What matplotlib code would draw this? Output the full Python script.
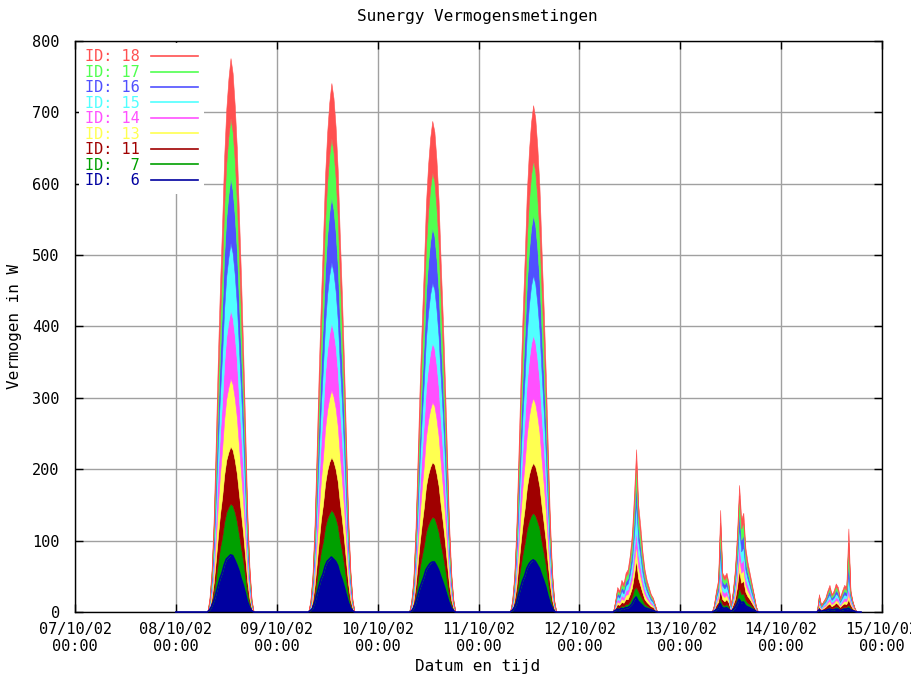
import numpy as np
import matplotlib
matplotlib.use('Agg')
import matplotlib.pyplot as plt
import matplotlib.dates as mdates
from matplotlib.lines import Line2D
from datetime import datetime, timedelta

# Meetdagen en halfuur-tijdstippen (07:30 .. 19:00)
dagen = ['08/10/02', '09/10/02', '10/10/02', '11/10/02', '12/10/02', '13/10/02', '14/10/02']
slots = ['07:30', '08:00', '08:30', '09:00', '09:30', '10:00', '10:30', '11:00',
         '11:30', '12:00', '12:30', '13:00', '13:30', '14:00', '14:30', '15:00',
         '15:30', '16:00', '16:30', '17:00', '17:30', '18:00', '18:30', '19:00']

ids = [6, 7, 11, 13, 14, 15, 16, 17, 18]
kleuren = ['#0000a0', '#00a000', '#a00000', '#ffff50', '#ff50ff',
           '#50ffff', '#5050ff', '#50ff50', '#ff5050']

# Vermogen (W) per omvormer, per dag, per half uur
id_6 = [
    [0, 3, 8, 15, 25, 36, 47, 55, 66, 74, 77, 80, 79, 73, 66, 58, 47, 38, 27, 15, 7, 2, 0, 0],
    [0, 2, 5, 13, 24, 35, 46, 53, 64, 71, 74, 77, 74, 71, 65, 54, 46, 36, 25, 14, 6, 2, 0, 0],
    [0, 1, 5, 12, 22, 33, 41, 49, 59, 64, 68, 70, 70, 65, 59, 50, 42, 33, 23, 13, 6, 2, 0, 0],
    [0, 2, 6, 12, 23, 34, 44, 51, 61, 67, 71, 73, 71, 66, 61, 52, 44, 35, 23, 13, 6, 1, 0, 0],
    [0, 0, 2, 4, 3, 5, 4, 6, 6, 8, 11, 17, 21, 15, 12, 9, 6, 5, 4, 3, 2, 1, 0, 0],
    [0, 1, 3, 5, 12, 6, 5, 6, 4, 1, 3, 6, 11, 18, 13, 14, 9, 7, 6, 4, 3, 1, 0, 0],
    [0, 0, 0, 3, 1, 2, 2, 3, 4, 3, 3, 4, 4, 2, 3, 4, 4, 5, 3, 2, 1, 0, 0, 0],
]
id_7 = [
    [0, 1, 5, 12, 22, 33, 43, 50, 60, 66, 70, 72, 70, 67, 61, 51, 43, 34, 23, 13, 6, 2, 0, 0],
    [0, 1, 5, 11, 20, 30, 39, 46, 55, 60, 64, 66, 65, 61, 56, 47, 40, 31, 21, 12, 5, 2, 0, 0],
    [0, 1, 4, 11, 20, 29, 37, 44, 53, 58, 61, 63, 62, 58, 53, 45, 38, 30, 20, 11, 5, 2, 0, 0],
    [0, 1, 5, 11, 21, 30, 38, 46, 55, 61, 64, 66, 64, 61, 56, 47, 39, 31, 21, 12, 5, 2, 0, 0],
    [0, 0, 1, 3, 3, 4, 4, 5, 5, 7, 10, 15, 14, 14, 11, 8, 5, 4, 3, 2, 2, 1, 0, 0],
    [0, 1, 3, 4, 8, 5, 4, 5, 4, 1, 3, 5, 10, 16, 12, 12, 8, 6, 5, 4, 2, 1, 0, 0],
    [0, 0, 0, 2, 1, 1, 2, 3, 3, 2, 3, 4, 3, 2, 3, 3, 3, 5, 3, 1, 1, 0, 0, 0],
]
id_11 = [
    [0, 2, 6, 14, 25, 37, 47, 56, 66, 73, 77, 80, 78, 73, 67, 57, 48, 38, 26, 14, 6, 2, 0, 0],
    [0, 1, 5, 13, 23, 34, 44, 52, 61, 67, 72, 74, 72, 68, 62, 53, 44, 35, 24, 13, 6, 2, 0, 0],
    [0, 2, 5, 13, 24, 35, 45, 54, 64, 70, 74, 77, 75, 71, 65, 55, 46, 36, 25, 14, 6, 2, 0, 0],
    [0, 1, 5, 12, 22, 32, 41, 49, 58, 64, 68, 70, 69, 65, 59, 50, 42, 33, 22, 13, 6, 2, 0, 0],
    [0, 0, 2, 4, 4, 5, 5, 7, 7, 10, 13, 20, 38, 18, 14, 10, 7, 5, 4, 3, 3, 1, 0, 0],
    [0, 1, 4, 5, 12, 7, 6, 7, 5, 1, 4, 7, 14, 25, 16, 18, 11, 9, 7, 5, 3, 1, 0, 0],
    [0, 0, 0, 3, 1, 2, 3, 4, 5, 3, 4, 5, 4, 3, 4, 5, 4, 8, 4, 2, 1, 0, 0, 0],
]
id_13 = [
    [0, 2, 7, 16, 29, 44, 56, 67, 78, 86, 91, 95, 92, 87, 79, 67, 57, 45, 30, 17, 8, 2, 0, 0],
    [0, 2, 7, 16, 29, 43, 55, 66, 77, 85, 90, 94, 91, 86, 78, 67, 56, 44, 30, 17, 8, 2, 0, 0],
    [0, 2, 6, 14, 26, 39, 50, 59, 69, 76, 81, 84, 82, 77, 70, 60, 50, 39, 27, 15, 7, 2, 0, 0],
    [0, 2, 6, 15, 28, 42, 54, 64, 75, 82, 88, 91, 88, 83, 76, 65, 55, 43, 29, 16, 7, 2, 0, 0],
    [0, 0, 2, 4, 3, 5, 4, 6, 7, 9, 12, 18, 21, 16, 13, 9, 7, 5, 4, 3, 2, 1, 0, 0],
    [0, 1, 3, 5, 15, 6, 6, 6, 4, 1, 3, 7, 12, 18, 14, 15, 10, 8, 6, 4, 3, 1, 0, 0],
    [0, 0, 0, 3, 1, 2, 2, 3, 4, 3, 3, 4, 4, 2, 3, 4, 4, 8, 3, 2, 1, 0, 0, 0],
]
id_14 = [
    [0, 2, 7, 16, 30, 44, 57, 67, 79, 87, 92, 96, 93, 87, 80, 68, 58, 45, 31, 17, 8, 2, 0, 0],
    [0, 2, 7, 16, 29, 43, 55, 66, 77, 85, 90, 94, 91, 86, 78, 67, 56, 44, 30, 17, 8, 2, 0, 0],
    [0, 2, 6, 14, 26, 38, 49, 58, 69, 75, 80, 83, 81, 76, 69, 59, 50, 39, 27, 15, 7, 2, 0, 0],
    [0, 2, 6, 15, 27, 40, 52, 62, 73, 80, 85, 88, 86, 80, 73, 62, 53, 41, 28, 16, 7, 2, 0, 0],
    [0, 0, 2, 4, 3, 5, 4, 6, 7, 9, 12, 18, 21, 17, 13, 9, 7, 5, 4, 3, 2, 1, 0, 0],
    [0, 1, 3, 5, 18, 6, 6, 6, 4, 1, 3, 7, 12, 20, 14, 15, 10, 8, 6, 4, 3, 1, 0, 0],
    [0, 0, 0, 3, 1, 2, 2, 3, 4, 3, 3, 4, 4, 2, 3, 4, 4, 10, 3, 2, 1, 0, 0, 0],
]
id_15 = [
    [0, 3, 8, 16, 29, 43, 55, 66, 77, 85, 90, 94, 91, 86, 78, 70, 56, 44, 32, 17, 8, 2, 0, 0],
    [0, 2, 6, 14, 26, 39, 50, 60, 70, 77, 82, 85, 83, 78, 71, 60, 51, 40, 27, 15, 7, 2, 0, 0],
    [0, 2, 6, 14, 26, 39, 50, 59, 69, 76, 81, 84, 82, 77, 70, 60, 50, 39, 27, 15, 7, 2, 0, 0],
    [0, 2, 7, 14, 26, 39, 50, 59, 69, 76, 81, 84, 82, 77, 70, 60, 50, 39, 27, 15, 7, 2, 0, 0],
    [0, 0, 2, 4, 4, 6, 5, 7, 8, 10, 14, 21, 39, 20, 16, 11, 8, 6, 4, 3, 3, 2, 0, 0],
    [0, 2, 4, 6, 20, 7, 6, 7, 5, 2, 4, 8, 14, 22, 16, 17, 12, 9, 7, 5, 3, 1, 0, 0],
    [0, 0, 0, 3, 2, 2, 3, 4, 5, 3, 4, 5, 4, 3, 4, 5, 4, 16, 4, 2, 0, 0, 0, 0],
]
id_16 = [
    [0, 2, 6, 15, 28, 42, 54, 64, 75, 82, 88, 91, 88, 83, 76, 65, 55, 43, 29, 16, 7, 2, 0, 0],
    [0, 2, 6, 15, 28, 42, 54, 64, 75, 82, 88, 91, 88, 83, 76, 65, 55, 43, 29, 16, 7, 2, 0, 0],
    [0, 2, 5, 13, 24, 35, 45, 54, 64, 70, 74, 77, 75, 71, 65, 55, 46, 36, 25, 14, 6, 2, 0, 0],
    [0, 2, 6, 14, 26, 39, 50, 59, 69, 76, 81, 84, 82, 77, 70, 60, 50, 39, 27, 15, 7, 2, 0, 0],
    [0, 0, 2, 4, 4, 5, 5, 6, 7, 10, 13, 20, 27, 18, 14, 10, 7, 5, 4, 3, 2, 1, 0, 0],
    [0, 1, 4, 5, 20, 6, 6, 6, 5, 1, 4, 7, 13, 22, 16, 17, 11, 8, 6, 5, 3, 1, 0, 0],
    [0, 0, 0, 3, 1, 2, 2, 4, 5, 3, 4, 5, 4, 2, 4, 5, 4, 22, 4, 2, 0, 0, 0, 0],
]
id_17 = [
    [0, 2, 6, 14, 26, 39, 50, 59, 69, 76, 81, 84, 82, 77, 70, 62, 50, 41, 27, 15, 7, 2, 0, 0],
    [0, 2, 6, 14, 26, 38, 49, 58, 69, 75, 80, 83, 81, 76, 69, 59, 50, 39, 27, 15, 7, 2, 0, 0],
    [0, 2, 5, 13, 24, 36, 46, 55, 65, 71, 75, 78, 76, 72, 65, 55, 47, 37, 25, 14, 6, 2, 0, 0],
    [0, 2, 5, 13, 24, 35, 45, 54, 64, 70, 74, 77, 75, 71, 65, 55, 46, 36, 25, 14, 6, 2, 0, 0],
    [0, 0, 1, 4, 3, 5, 5, 7, 7, 10, 14, 20, 28, 18, 15, 11, 7, 5, 4, 3, 2, 1, 0, 0],
    [0, 1, 3, 5, 20, 7, 6, 7, 5, 1, 3, 7, 13, 22, 16, 17, 11, 8, 7, 5, 3, 1, 0, 0],
    [0, 0, 0, 3, 1, 1, 2, 3, 4, 3, 3, 5, 4, 2, 3, 4, 4, 23, 3, 1, 0, 0, 0, 0],
]
id_18 = [
    [0, 3, 7, 14, 27, 39, 50, 59, 69, 76, 81, 84, 82, 77, 73, 60, 54, 39, 29, 15, 7, 2, 0, 0],
    [0, 2, 5, 13, 24, 35, 45, 54, 64, 70, 74, 77, 75, 71, 65, 55, 46, 36, 25, 14, 6, 2, 0, 0],
    [0, 1, 5, 12, 22, 33, 42, 50, 60, 66, 70, 72, 70, 66, 61, 51, 43, 34, 23, 13, 6, 2, 0, 0],
    [0, 2, 5, 13, 24, 35, 45, 54, 64, 70, 74, 77, 75, 71, 65, 55, 46, 36, 25, 14, 6, 2, 0, 0],
    [0, 0, 1, 4, 3, 5, 4, 5, 6, 7, 11, 16, 19, 14, 12, 8, 6, 5, 4, 2, 2, 1, 0, 0],
    [0, 1, 3, 5, 18, 5, 5, 5, 4, 1, 3, 6, 11, 15, 13, 14, 8, 7, 5, 4, 2, 0, 0, 0],
    [0, 0, 0, 2, 1, 1, 2, 3, 4, 2, 3, 4, 4, 2, 3, 4, 4, 20, 3, 1, 0, 0, 0, 0],
]
metingen = [id_6, id_7, id_11, id_13, id_14, id_15, id_16, id_17, id_18]

# Tijdas: middernacht (0 W) + halfuur-slots per dag
tijden = []
for dag in dagen:
    d = datetime.strptime(dag, '%d/%m/%y')
    tijden.append(d)
    for s in slots:
        u, m = map(int, s.split(':'))
        tijden.append(d + timedelta(hours=u, minutes=m))


def reeks(per_dag):
    waarden = []
    for dag in per_dag:
        waarden += [0] + dag
    return np.array(waarden, dtype=float)


plt.rcParams['font.family'] = 'DejaVu Sans Mono'
plt.rcParams['font.size'] = 11

fig = plt.figure(figsize=(9.12, 6.75), dpi=100)
ax = fig.add_axes([75 / 912, 63 / 675, 807 / 912, 571 / 675])

onder = np.zeros(len(tijden))
for id_, kleur, data in zip(ids, kleuren, metingen):
    boven = onder + reeks(data)
    ax.fill_between(tijden, onder, boven, facecolor=kleur, edgecolor=kleur,
                    lw=0.4, zorder=2)
    onder = boven
# lijn van ID 6 (ligt 's nachts op de nullijn)
ax.plot(tijden, reeks(id_6), color='#0000a0', lw=1.2, zorder=3, clip_on=False)

ax.set_xlim(datetime(2002, 10, 7), datetime(2002, 10, 15))
ax.set_ylim(0, 800)
ax.set_yticks(range(0, 801, 100))
ax.xaxis.set_major_locator(mdates.DayLocator())
ax.xaxis.set_major_formatter(mdates.DateFormatter('%d/%m/%y\n%H:%M'))
ax.grid(True, color='#a0a0a0', lw=1)
ax.set_axisbelow(True)
ax.tick_params(direction='in', length=6, width=1, top=True, right=True, labelsize=11)
ax.tick_params(axis='x', pad=7)
ax.tick_params(axis='y', pad=11)
for sp in ax.spines.values():
    sp.set_linewidth(1)

handles = [Line2D([], [], color=k, lw=1.2) for k in kleuren[::-1]]
labels = ['ID: %2d' % i for i in ids[::-1]]
ax.legend(handles, labels, loc='upper left', bbox_to_anchor=(0.005, 0.996),
          borderaxespad=0, markerfirst=False, handlelength=3.1, handletextpad=0.7,
          labelspacing=0.03, borderpad=0.4, frameon=True, fancybox=False,
          edgecolor='none', facecolor='white', framealpha=1,
          labelcolor='linecolor', fontsize=11)

fig.text(477 / 912, 1 - 17 / 675, 'Sunergy Vermogensmetingen', ha='center', va='center', fontsize=11.5)
fig.text(478 / 912, 1 - 666 / 675, 'Datum en tijd', ha='center', va='center', fontsize=11.5)
fig.text(15 / 912, 1 - 326 / 675, 'Vermogen in W', ha='center', va='center', rotation=90, fontsize=11.5)

fig.savefig('out.png', dpi=100)
